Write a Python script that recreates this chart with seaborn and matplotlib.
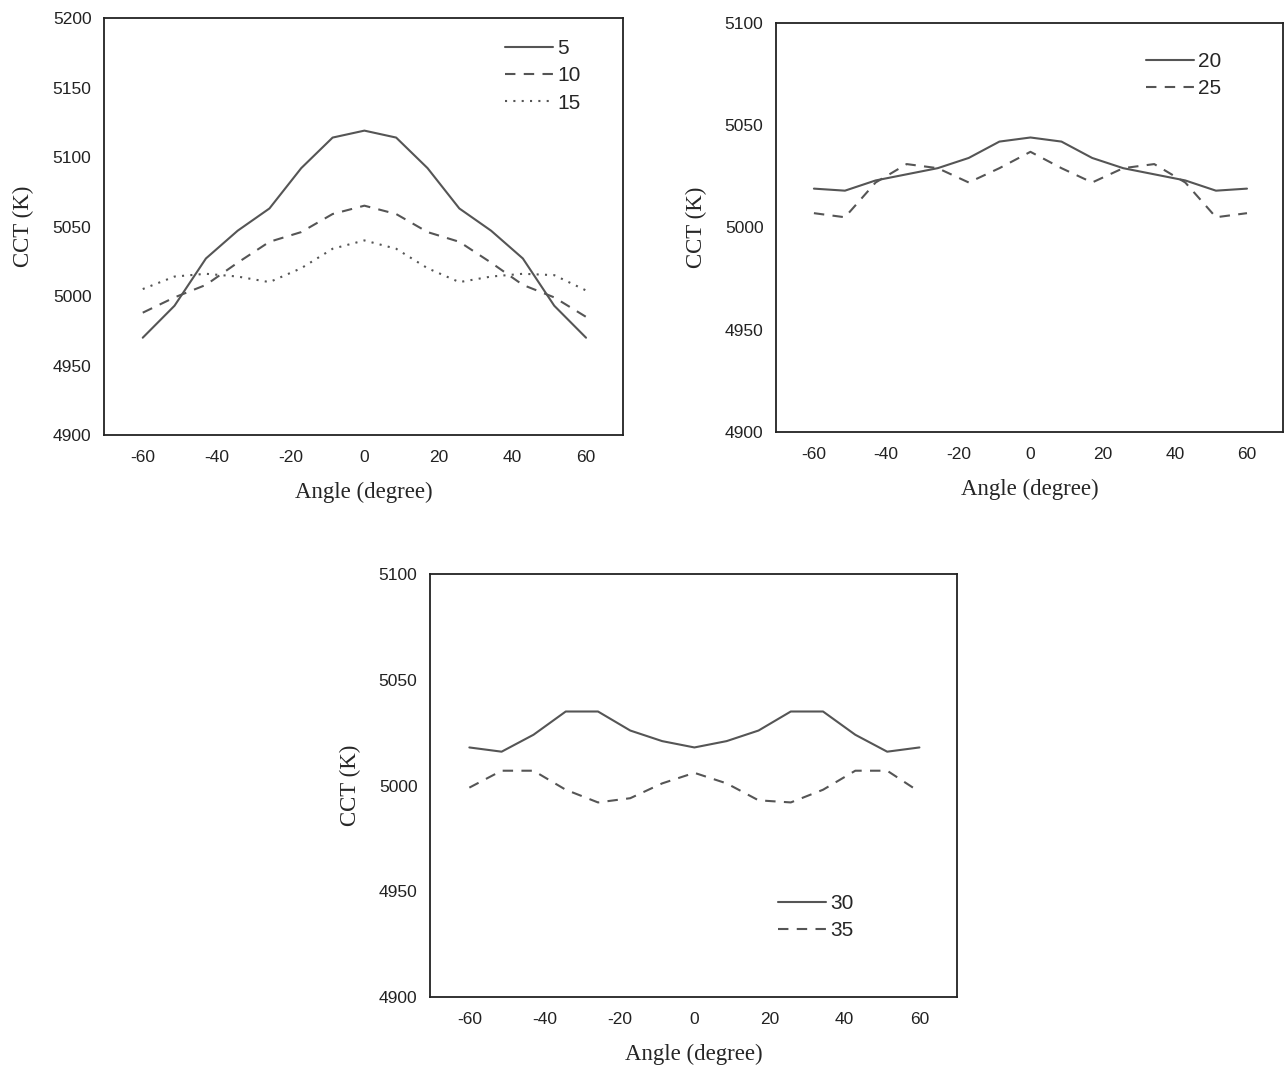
import numpy as np
import pandas as pd
import matplotlib
matplotlib.use("Agg")
import matplotlib.pyplot as plt
import seaborn as sns

# angles: 15 samples between -60 and 60 degree
angles = [-60, -51.4, -42.9, -34.3, -25.7, -17.1, -8.6, 0,
          8.6, 17.1, 25.7, 34.3, 42.9, 51.4, 60]

# panel 1
cct_5 = [4970, 4993, 5027, 5047, 5063, 5092, 5114, 5119,
         5114, 5092, 5063, 5047, 5027, 4993, 4970]
cct_10 = [4988, 4999, 5008, 5024, 5039, 5046, 5059, 5065,
          5059, 5046, 5039, 5024, 5008, 4999, 4985]
cct_15 = [5005, 5014, 5016, 5014, 5010, 5020, 5034, 5040,
          5034, 5020, 5010, 5014, 5016, 5015, 5004]

# panel 2
cct_20 = [5019, 5018, 5023, 5026, 5029, 5034, 5042, 5044,
          5042, 5034, 5029, 5026, 5023, 5018, 5019]
cct_25 = [5007, 5005, 5022, 5031, 5029, 5022, 5029, 5037,
          5029, 5022, 5029, 5031, 5022, 5005, 5007]

# panel 3
cct_30 = [5018, 5016, 5024, 5035, 5035, 5026, 5021, 5018,
          5021, 5026, 5035, 5035, 5024, 5016, 5018]
cct_35 = [4999, 5007, 5007, 4998, 4992, 4994, 5001, 5006,
          5001, 4993, 4992, 4998, 5007, 5007, 4997]

line_color = "#555555"
dash_styles = {"solid": "", "dashed": (5, 4), "dotted": (1, 3)}

sns.set_style("white")
plt.rcParams["font.family"] = ["Liberation Sans", "DejaVu Sans"]
plt.rcParams["axes.unicode_minus"] = False

fig = plt.figure(figsize=(12.85, 10.68), dpi=100)


def make_panel(rect, series, ylim, yticks, legend_loc, legend_anchor):
    ax = fig.add_axes(rect)
    rows = []
    for name, vals, style in series:
        for a, v in zip(angles, vals):
            rows.append({"angle": a, "cct": v, "name": name})
    df = pd.DataFrame(rows)
    order = [s[0] for s in series]
    dashes = {s[0]: dash_styles[s[2]] for s in series}
    sns.lineplot(data=df, x="angle", y="cct", style="name", style_order=order,
                 dashes=dashes, color=line_color, linewidth=1.5, ax=ax)
    ax.set_xlim(-70.5, 70)
    ax.set_ylim(*ylim)
    ax.set_xticks([-60, -40, -20, 0, 20, 40, 60])
    ax.set_yticks(yticks)
    ax.tick_params(length=0, labelsize=12.5, colors="#222222")
    ax.tick_params(axis="x", pad=11)
    ax.tick_params(axis="y", pad=9)
    for sp in ax.spines.values():
        sp.set_color("#222222")
        sp.set_linewidth(1.3)
    ax.set_xlabel("Angle (degree)", family="Liberation Serif", fontsize=16.5,
                  labelpad=12)
    ax.set_ylabel("CCT (K)", family="Liberation Serif", fontsize=16.5,
                  labelpad=13)
    ax.legend(loc=legend_loc, bbox_to_anchor=legend_anchor, frameon=False,
              fontsize=15, handlelength=2.3, handletextpad=0.2,
              labelspacing=0.4, title=None)
    return ax


make_panel([0.0809, 0.5927, 0.4039, 0.3904],
           [("5", cct_5, "solid"), ("10", cct_10, "dashed"), ("15", cct_15, "dotted")],
           (4900, 5200), [4900, 4950, 5000, 5050, 5100, 5150, 5200],
           "upper right", (0.955, 0.995))

make_panel([0.6039, 0.5955, 0.3946, 0.383],
           [("20", cct_20, "solid"), ("25", cct_25, "dashed")],
           (4900, 5100), [4900, 4950, 5000, 5050, 5100],
           "upper right", (0.915, 0.975))

make_panel([0.3346, 0.0665, 0.4101, 0.396],
           [("30", cct_30, "solid"), ("35", cct_35, "dashed")],
           (4900, 5100), [4900, 4950, 5000, 5050, 5100],
           "lower right", (0.84, 0.09))

fig.savefig("out.png", dpi=100)
